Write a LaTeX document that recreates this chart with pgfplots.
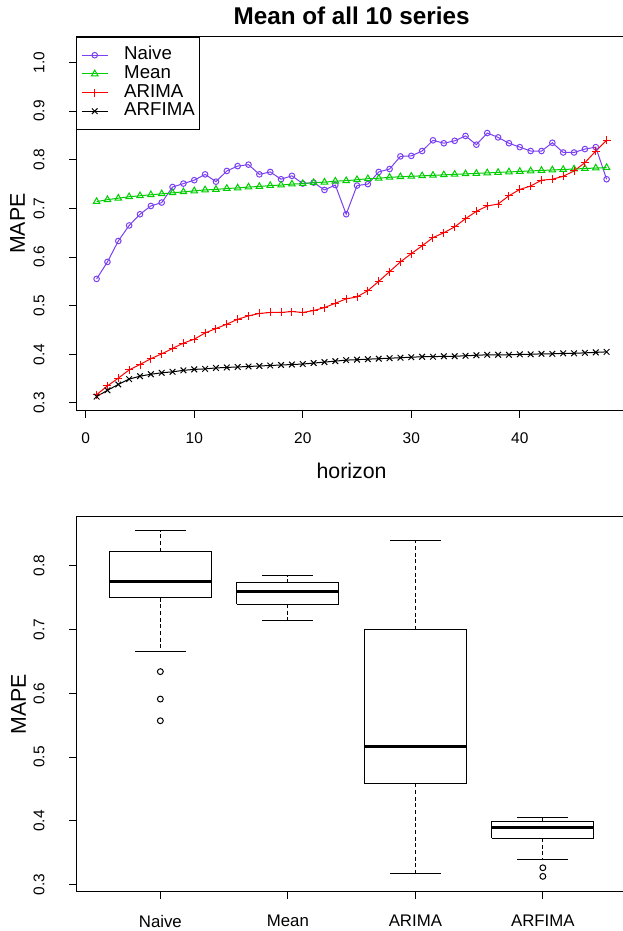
\documentclass[border=0pt]{standalone}
\usepackage{fontspec}
\setmainfont{Liberation Sans}
\usepackage{pgfplots}
\pgfplotsset{compat=1.18}

\definecolor{naivecol}{HTML}{7A40F2}
\definecolor{meancol}{HTML}{00CD00}
\definecolor{arimacol}{HTML}{FF0000}

\pgfplotsset{
  /pgf/number format/assume math mode=true,
  rbase/.style={
    scale only axis,
    axis line style={line width=0.75pt},
    tick align=outside,
    tick pos=left,
    major tick length=5.25pt,
    every tick/.style={black, line width=0.75pt},
    tick label style={font=\fontsize{11.6}{12}\selectfont},
    yticklabel shift=15pt,
    yticklabel style={rotate=90, anchor=south,
      /pgf/number format/.cd, fixed, fixed zerofill, precision=1},
    ylabel style={at={(axis description cs:-0.1065,0.5)}, anchor=center,
      rotate=0, font=\fontsize{16}{18}\selectfont},
  },
}

\begin{document}
\begin{tikzpicture}
\path[use as bounding box] (0,0) rectangle (466.5pt,698.25pt);

% top: MAPE by horizon
\begin{axis}[rbase,
  at={(57.15pt,390.2pt)}, anchor=south west,
  width=413.1pt, height=280.5pt,
  xmin=-0.88, xmax=49.88, ymin=0.284, ymax=1.053,
  xtick={0,10,20,30,40},
  xticklabel shift=7.5pt,
  ytick={0.3,0.4,0.5,0.6,0.7,0.8,0.9,1.0},
  title={Mean of all 10 series},
  title style={at={(axis description cs:0.5,1.010)}, anchor=base,
    font=\bfseries\fontsize{18.2}{20}\selectfont},
  xlabel={horizon},
  xlabel style={at={(axis description cs:0.5,-0.1825)}, anchor=base,
    font=\fontsize{16}{18}\selectfont},
  ylabel={MAPE},
  legend style={at={(0,1)}, anchor=north west, draw=black, line width=0.75pt,
    fill=white, font=\fontsize{14}{14}\selectfont,
    inner xsep=3.4pt, inner ysep=7pt, row sep=1pt, column sep=12pt,
    nodes={inner sep=0pt, text height=10pt, text depth=3pt}},
  legend cell align=left,
  legend image code/.code={\draw[mark repeat=2,mark phase=2]
    plot coordinates {(0pt,0pt) (9.75pt,0pt) (19.5pt,0pt)};},
]
\addplot[naivecol, line width=0.75pt, mark=o, mark size=2.1pt] coordinates {
(1,0.555) (2,0.590) (3,0.633) (4,0.665) (5,0.688) (6,0.705) (7,0.712) (8,0.744)
(9,0.751) (10,0.758) (11,0.770) (12,0.755) (13,0.777) (14,0.787) (15,0.790) (16,0.770)
(17,0.775) (18,0.760) (19,0.767) (20,0.751) (21,0.753) (22,0.738) (23,0.748) (24,0.688)
(25,0.747) (26,0.750) (27,0.775) (28,0.781) (29,0.807) (30,0.808) (31,0.818) (32,0.840)
(33,0.834) (34,0.839) (35,0.849) (36,0.831) (37,0.855) (38,0.846) (39,0.834) (40,0.826)
(41,0.818) (42,0.818) (43,0.835) (44,0.815) (45,0.815) (46,0.822) (47,0.826) (48,0.760)
};
\addlegendentry{Naive}
\addplot[meancol, line width=0.75pt, mark=triangle, mark size=2.8pt] coordinates {
(1,0.714) (2,0.718) (3,0.721) (4,0.724) (5,0.726) (6,0.728) (7,0.730) (8,0.732)
(9,0.734) (10,0.736) (11,0.738) (12,0.739) (13,0.741) (14,0.742) (15,0.744) (16,0.745)
(17,0.747) (18,0.748) (19,0.750) (20,0.751) (21,0.753) (22,0.754) (23,0.756) (24,0.757)
(25,0.759) (26,0.761) (27,0.762) (28,0.764) (29,0.765) (30,0.766) (31,0.767) (32,0.768)
(33,0.769) (34,0.770) (35,0.771) (36,0.772) (37,0.773) (38,0.774) (39,0.775) (40,0.776)
(41,0.777) (42,0.778) (43,0.779) (44,0.780) (45,0.781) (46,0.782) (47,0.783) (48,0.784)
};
\addlegendentry{Mean}
\addplot[arimacol, line width=0.75pt, mark=+, mark size=3pt] coordinates {
(1,0.317) (2,0.335) (3,0.351) (4,0.368) (5,0.379) (6,0.391) (7,0.401) (8,0.412)
(9,0.423) (10,0.431) (11,0.444) (12,0.453) (13,0.462) (14,0.472) (15,0.479) (16,0.484)
(17,0.486) (18,0.486) (19,0.488) (20,0.486) (21,0.490) (22,0.496) (23,0.505) (24,0.514)
(25,0.518) (26,0.531) (27,0.550) (28,0.570) (29,0.590) (30,0.607) (31,0.623) (32,0.640)
(33,0.650) (34,0.662) (35,0.679) (36,0.694) (37,0.705) (38,0.709) (39,0.726) (40,0.739)
(41,0.746) (42,0.758) (43,0.760) (44,0.766) (45,0.777) (46,0.794) (47,0.818) (48,0.840)
};
\addlegendentry{ARIMA}
\addplot[black, line width=0.75pt, mark=x, mark size=3pt] coordinates {
(1,0.313) (2,0.326) (3,0.338) (4,0.349) (5,0.355) (6,0.359) (7,0.362) (8,0.364)
(9,0.367) (10,0.369) (11,0.370) (12,0.372) (13,0.373) (14,0.374) (15,0.375) (16,0.376)
(17,0.377) (18,0.378) (19,0.379) (20,0.380) (21,0.382) (22,0.384) (23,0.386) (24,0.388)
(25,0.389) (26,0.390) (27,0.391) (28,0.392) (29,0.393) (30,0.394) (31,0.395) (32,0.395)
(33,0.396) (34,0.396) (35,0.397) (36,0.398) (37,0.399) (38,0.399) (39,0.399) (40,0.400)
(41,0.400) (42,0.401) (43,0.401) (44,0.402) (45,0.402) (46,0.403) (47,0.404) (48,0.405)
};
\addlegendentry{ARFIMA}
\end{axis}

% bottom: boxplots
\begin{axis}[rbase,
  at={(57.15pt,29.5pt)}, anchor=south west,
  width=413.1pt, height=281.25pt,
  xmin=0.34, xmax=4.66, ymin=0.289, ymax=0.877,
  xtick={1,2,3,4},
  xticklabels={Naive,Mean,ARIMA,ARFIMA},
  xticklabel shift=9pt,
  xticklabel style={font=\fontsize{12.6}{13}\selectfont},
  ytick={0.3,0.4,0.5,0.6,0.7,0.8},
  ylabel={MAPE},
  ylabel style={at={(axis description cs:-0.1048,0.5)}},
  unbounded coords=jump,
]
% dashed whiskers
\addplot[black, line width=0.75pt, dash pattern=on 3pt off 2pt] coordinates {
(1,0.822) (1,0.855) (1,nan) (1,0.750) (1,0.665) (1,nan)
(2,0.773) (2,0.784) (2,nan) (2,0.740) (2,0.7135) (2,nan)
(3,0.6995) (3,0.840) (3,nan) (3,0.459) (3,0.318) (3,nan)
(4,0.399) (4,0.405) (4,nan) (4,0.373) (4,0.339)
};
% whisker caps
\addplot[black, line width=0.75pt] coordinates {
(0.8,0.855) (1.2,0.855) (1,nan) (0.8,0.665) (1.2,0.665) (1,nan)
(1.8,0.784) (2.2,0.784) (2,nan) (1.8,0.7135) (2.2,0.7135) (2,nan)
(2.8,0.840) (3.2,0.840) (3,nan) (2.8,0.318) (3.2,0.318) (3,nan)
(3.8,0.405) (4.2,0.405) (4,nan) (3.8,0.339) (4.2,0.339)
};
% boxes
\addplot[black, line width=0.75pt, line join=miter] coordinates {
(0.6,0.750) (1.4,0.750) (1.4,0.822) (0.6,0.822) (0.6,0.750) (1,nan)
(1.6,0.740) (2.4,0.740) (2.4,0.773) (1.6,0.773) (1.6,0.740) (2,nan)
(2.6,0.459) (3.4,0.459) (3.4,0.6995) (2.6,0.6995) (2.6,0.459) (3,nan)
(3.6,0.373) (4.4,0.373) (4.4,0.399) (3.6,0.399) (3.6,0.373)
};
% medians
\addplot[black, line width=2.25pt] coordinates {
(0.6,0.776) (1.4,0.776) (1,nan)
(1.6,0.759) (2.4,0.759) (2,nan)
(2.6,0.517) (3.4,0.517) (3,nan)
(3.6,0.389) (4.4,0.389)
};
% outliers
\addplot[only marks, black, mark=o, mark size=2.2pt, line width=0.75pt] coordinates {
(1,0.634) (1,0.591) (1,0.557) (4,0.3265) (4,0.313)
};
\end{axis}
\end{tikzpicture}
\end{document}
